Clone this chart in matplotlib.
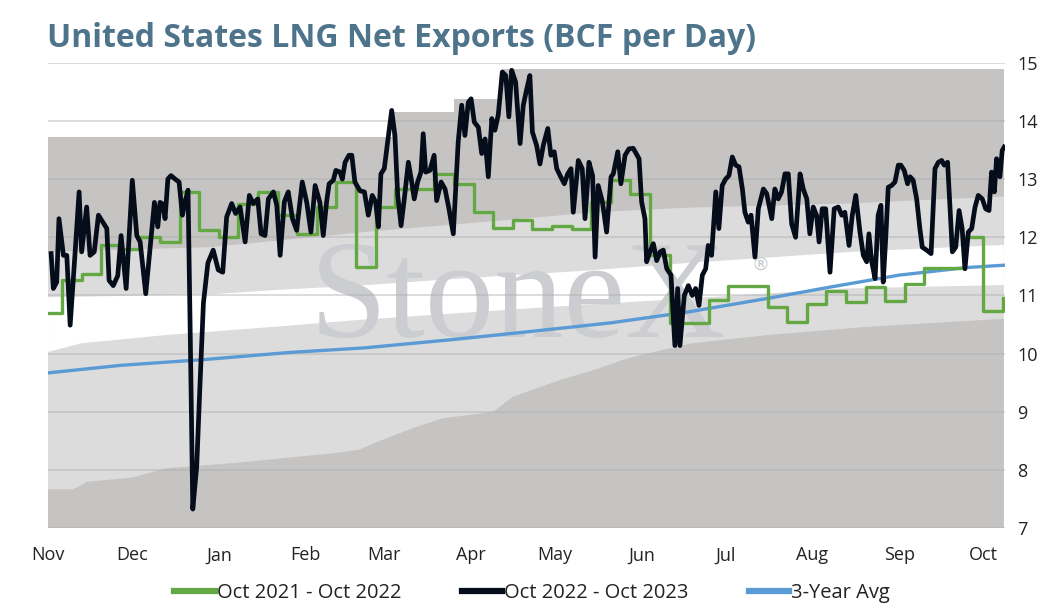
import matplotlib
matplotlib.use("Agg")
import matplotlib.pyplot as plt
from matplotlib.lines import Line2D

# days counted from Nov 1
month_days = [0, 30, 61, 92, 120, 151, 181, 212, 242, 273, 304, 334]
month_labels = ["Nov", "Dec", "Jan", "Feb", "Mar", "Apr", "May", "Jun", "Jul", "Aug", "Sep", "Oct"]

# 5-year range bands (upper edge of each layer)
max_days = [0, 123, 145, 162, 341.4]
max_vals = [13.73, 14.16, 14.37, 14.89, 14.89]
upper_mid_days = [0, 35, 58, 113, 172, 195, 229, 285, 341.4]
upper_mid_vals = [11.75, 11.80, 11.83, 12.09, 12.33, 12.43, 12.51, 12.58, 12.70]
white_top_days = [0, 58, 83, 111, 150, 190, 229, 287, 341.4]
white_top_vals = [10.97, 11.02, 11.10, 11.17, 11.30, 11.42, 11.56, 11.75, 11.87]
lower_mid_days = [0, 12, 42, 83, 111, 172, 229, 285, 341.4]
lower_mid_vals = [10.03, 10.18, 10.32, 10.47, 10.58, 10.78, 10.95, 11.12, 11.18]
min_days = [0, 9, 14, 30, 42, 66, 102, 111, 121, 132, 141, 159, 166, 183, 195, 207, 219, 230, 257, 292, 341.4]
min_vals = [7.67, 7.67, 7.80, 7.87, 8.03, 8.12, 8.29, 8.35, 8.55, 8.75, 8.89, 9.00, 9.26, 9.55, 9.72,
            9.92, 10.06, 10.18, 10.32, 10.46, 10.60]

# Oct 2021 - Oct 2022 (weekly)
green_days = [0, 5, 12, 19, 26, 33, 40, 47, 54, 61, 68, 75, 82, 89, 96, 103, 110, 117, 124, 131,
              138, 145, 152, 159, 166, 173, 180, 187, 194, 201, 208, 215, 222, 229, 236, 243, 250,
              257, 264, 271, 278, 285, 292, 299, 306, 313, 320, 327, 334, 341]
green_vals = [10.70, 11.26, 11.37, 11.86, 11.80, 12.00, 11.92, 12.78, 12.12, 12.00, 12.58, 12.78,
              12.38, 12.06, 12.52, 12.95, 11.49, 12.52, 12.83, 12.83, 13.09, 12.92, 12.43, 12.16,
              12.29, 12.14, 12.20, 12.14, 12.60, 12.98, 12.75, 11.69, 10.52, 10.52, 10.93, 11.16,
              11.16, 10.80, 10.54, 10.86, 11.08, 10.88, 11.14, 10.91, 11.20, 11.48, 11.48, 12.00,
              10.74, 10.96]

# Oct 2022 - Oct 2023
black_days = [1.1, 1.9, 3.1, 3.9, 5.5, 6.7, 7.9, 9.6, 11.1, 12.0, 13.8, 15.0, 16.5, 18.0, 21.0,
              21.8, 23.3, 24.9, 26.1, 27.9, 30.1, 31.7, 32.9, 34.9, 38.0, 39.2, 40.0, 41.0, 41.8,
              42.8, 43.9, 45.4, 46.8, 48.0, 48.9, 50.0, 50.9, 51.7, 53.1, 54.3, 55.5, 57.1, 59.0,
              60.8, 62.4, 63.8, 65.6, 67.0, 68.6, 70.4, 71.9, 73.3, 74.9, 76.1, 77.5, 78.7, 80.5,
              81.7, 82.9, 84.4, 85.8, 87.3, 88.8, 90.8, 92.4, 93.9, 95.4, 97.1, 98.3, 99.5, 100.4,
              101.9, 102.8, 104.3, 105.1, 106.1, 107.5, 108.5, 109.6, 111.4, 113.0, 114.4, 115.8,
              117.0, 118.0, 118.9, 120.1, 121.3, 122.75, 123.9, 124.9, 126.1, 127.25, 128.7, 129.9,
              130.8, 132.0, 133.2, 134.0, 134.9, 136.4, 137.9, 138.8, 140.4, 141.8, 143.2, 144.75,
              146.5, 147.75, 148.9, 150.1, 151.1, 152.25, 153.7, 154.9, 156.1, 157.25, 158.5,
              159.6, 160.8, 162.25, 163.5, 164.6, 165.6, 167.0, 168.6, 169.75, 171.0, 172.1,
              173.0, 174.5, 175.7, 176.9, 178.5, 179.6, 180.8, 181.7, 182.9, 184.4, 185.6, 186.8,
              187.6, 189.4, 190.8, 191.8, 193.2, 194.5, 195.4, 196.5, 198.0, 199.5, 201.1, 201.9,
              203.5, 204.6, 206.1, 207.5, 209.0, 211.1, 212.0, 213.2, 213.8, 214.75, 216.2, 217.4,
              218.6, 219.75, 221.0, 222.5, 223.9, 224.9, 225.7, 227.25, 228.7, 230.1, 231.3,
              232.5, 233.7, 234.9, 235.8, 237.0, 238.5, 239.6, 240.8, 242.0, 243.2, 244.4, 245.6,
              246.8, 248.0, 248.9, 250.1, 251.1, 252.5, 253.7, 255.5, 256.7, 258.5, 259.6, 260.8,
              262.0, 263.2, 264.4, 265.6, 267.0, 268.6, 269.75, 271.0, 272.1, 273.3, 274.5, 275.4,
              276.5, 277.75, 279.3, 280.8, 282.25, 283.5, 284.6, 286.1, 287.25, 288.5, 290.0,
              291.2, 292.4, 293.2, 294.2, 295.4, 296.5, 297.5, 298.3, 299.2, 300.1, 301.3, 302.5,
              303.7, 304.6, 305.8, 307.0, 307.9, 309.0, 310.25, 311.4, 312.25, 313.8, 315.4,
              316.8, 318.0, 319.2, 320.1, 321.3, 322.1, 323.0, 324.2, 325.4, 326.5, 327.5, 328.7,
              329.9, 331.1, 332.25, 333.7, 334.9, 336.1, 337.0, 338.0, 338.8, 340.0, 340.8, 341.5]
black_vals = [11.72, 11.12, 11.23, 12.32, 11.69, 11.69, 10.49, 11.69, 12.78, 11.75, 12.52, 11.69,
              11.75, 12.38, 12.15, 11.26, 11.17, 11.34, 12.03, 11.12, 12.98, 12.03, 11.92, 11.03,
              12.60, 12.18, 12.60, 12.57, 12.32, 13.00, 13.06, 13.00, 12.95, 12.38, 12.60, 12.81,
              10.00, 7.33, 8.06, 9.50, 10.87, 11.56, 11.78, 11.44, 11.40, 12.35, 12.58, 12.41,
              12.52, 11.92, 12.72, 12.58, 12.66, 12.06, 12.03, 12.66, 12.78, 12.55, 11.69, 12.61,
              12.78, 12.32, 12.12, 12.95, 12.60, 12.09, 12.89, 12.60, 12.03, 12.61, 12.92, 12.98,
              13.15, 13.12, 13.00, 13.29, 13.41, 13.41, 12.95, 12.80, 12.78, 12.38, 12.72, 12.61,
              12.18, 13.09, 13.18, 13.64, 14.18, 13.75, 12.72, 12.20, 12.66, 13.29, 12.95, 12.66,
              12.95, 13.12, 13.78, 13.12, 13.15, 13.41, 12.63, 12.95, 12.83, 12.49, 12.06, 13.64,
              14.27, 13.75, 14.32, 14.38, 13.98, 13.89, 13.44, 13.69, 13.04, 14.04, 13.84, 14.10,
              14.84, 14.78, 14.07, 14.87, 14.67, 13.61, 14.27, 14.55, 14.78, 13.81, 13.58, 13.26,
              13.58, 13.87, 13.41, 13.47, 13.18, 13.06, 12.92, 13.09, 13.18, 12.43, 13.32, 13.18,
              12.32, 13.29, 13.06, 11.66, 12.89, 12.61, 12.09, 13.04, 13.09, 13.47, 12.92, 13.41,
              13.52, 13.53, 13.35, 12.61, 12.32, 11.58, 11.72, 11.89, 11.60, 11.75, 11.78, 11.46,
              11.35, 10.14, 11.12, 10.14, 11.00, 11.17, 11.00, 11.12, 10.83, 11.35, 11.46, 11.86,
              11.69, 12.78, 12.15, 12.89, 13.00, 13.06, 13.38, 13.24, 13.21, 12.83, 12.43, 12.26,
              12.38, 11.66, 12.49, 12.83, 12.75, 12.32, 12.83, 12.66, 12.78, 13.09, 13.09, 12.23,
              12.00, 13.09, 12.83, 12.66, 12.06, 12.52, 12.38, 11.92, 12.49, 12.49, 11.40, 12.49,
              12.52, 12.38, 12.43, 11.86, 12.38, 12.72, 12.09, 11.69, 11.58, 12.06, 11.58, 11.29,
              12.38, 12.55, 11.23, 11.98, 12.86, 12.89, 12.95, 13.24, 13.24, 13.15, 12.92, 13.04,
              12.98, 12.66, 12.15, 11.83, 11.78, 11.72, 13.18, 13.29, 13.32, 13.24, 13.29, 12.55,
              11.75, 11.83, 12.46, 12.15, 11.46, 12.09, 12.15, 12.52, 12.72, 12.66, 12.49, 12.46,
              13.12, 12.78, 13.35, 13.04, 13.49, 13.55]

# 3-year average
avg_days = [0, 26, 56, 86, 113, 144, 172, 201, 229, 257, 280, 304, 328, 341.4]
avg_vals = [9.67, 9.80, 9.90, 10.02, 10.10, 10.24, 10.38, 10.53, 10.72, 10.95, 11.15, 11.35, 11.48, 11.52]

DARK = "#c6c4c3"
LIGHT = "#dcdcdc"
GREEN = "#64a844"
BLACK = "#050d1a"
BLUE = "#5b9bd5"
plt.rcParams["font.family"] = ["Open Sans", "DejaVu Sans"]

fig = plt.figure(figsize=(10.58, 6.13), dpi=100)
ax = fig.add_axes([0.0454, 0.1382, 0.9045, 0.7595])

# layered range fill, painted top layer first
ax.fill_between(max_days, max_vals, 0, step="post", color=DARK, lw=0, zorder=1)
ax.fill_between(upper_mid_days, upper_mid_vals, 0, color=LIGHT, lw=0, zorder=1)
ax.fill_between(white_top_days, white_top_vals, 0, color="white", lw=0, zorder=1)
ax.fill_between(lower_mid_days, lower_mid_vals, 0, color=LIGHT, lw=0, zorder=1)
ax.fill_between(min_days, min_vals, 0, color=DARK, lw=0, zorder=1)

# watermark
ax.text(0.491, 0.411, "StoneX", transform=ax.transAxes, family="Liberation Serif",
        fontsize=100, color="#cbcdd1", ha="center", va="baseline", zorder=2)
ax.text(0.745, 0.566, "\u00ae", transform=ax.transAxes, fontsize=13, color="#c8cace",
        ha="center", va="center", zorder=2, family="DejaVu Sans")

ax.plot(avg_days, avg_vals, color=BLUE, lw=2.4, zorder=4)
ax.plot(green_days, green_vals, color=GREEN, lw=2.4, drawstyle="steps-post", zorder=5)
ax.plot(black_days, black_vals, color=BLACK, lw=3.4, zorder=6, solid_joinstyle="round")

ax.set_xlim(0, 341.8)
ax.set_ylim(7, 15)
ax.set_yticks(range(7, 16))
ax.set_xticks(month_days)
ax.set_xticklabels(month_labels)
ax.yaxis.tick_right()
ax.tick_params(axis="both", length=0, labelsize=13, colors="#222222")
ax.tick_params(axis="y", pad=9)
ax.tick_params(axis="x", pad=13)
for s in ax.spines.values():
    s.set_visible(False)
ax.set_axisbelow(False)
ax.grid(axis="y", color="#aeaeae", alpha=0.47, lw=1.3)
ax.grid(axis="x", visible=False)

fig.text(0.044, 0.937, "United States LNG Net Exports (BCF per Day)", fontsize=23,
         fontweight="bold", color="#4e748c", va="center", ha="left")

handles = [Line2D([], [], color=GREEN, lw=4.5),
           Line2D([], [], color=BLACK, lw=4.5),
           Line2D([], [], color=BLUE, lw=4.5)]
fig.legend(handles, ["Oct 2021 - Oct 2022", "Oct 2022 - Oct 2023", "3-Year Avg"],
           loc="center", bbox_to_anchor=(0.503, 0.032), ncol=3, frameon=False,
           fontsize=14.5, handlelength=2.0, handletextpad=0.1, columnspacing=3.0,
           labelcolor="#222222")

fig.savefig("out.png", dpi=100)
